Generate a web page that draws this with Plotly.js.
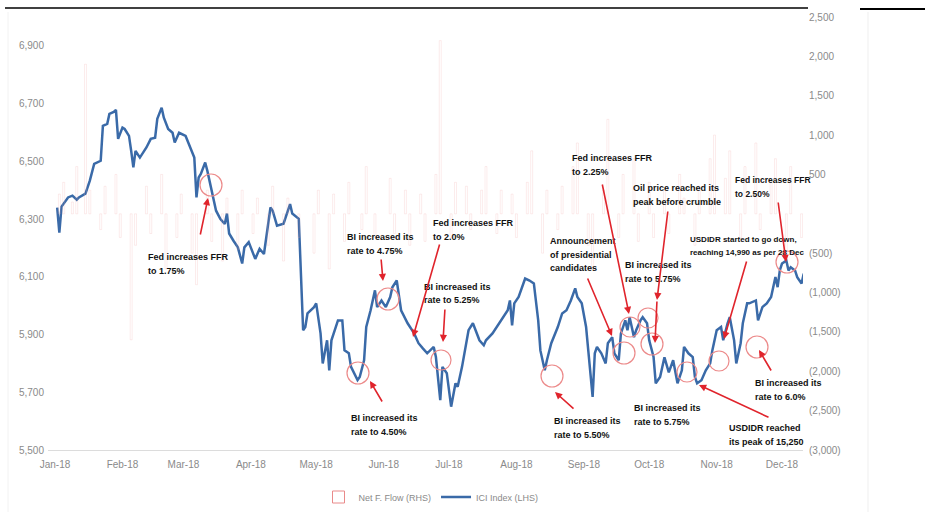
<!DOCTYPE html>
<html>
<head>
<meta charset="utf-8">
<script src="https://cdn.plot.ly/plotly-3.0.1.min.js"></script>
<style>html,body{margin:0;padding:0;background:#fff;}#chart{width:930px;height:512px;}</style>
</head>
<body>
<div id="chart"></div>
<script>
// ---------- DATA ----------
// ICI (JCI) index, trading day given as day-of-year offset from 1 Jan 2018
const iciDays = [1,2,3,5,6,8,10,11,14,16,18,21,22,24,25,27,28,29,31,32,34,35,36,37,39,42,44,46,47,49,50,52,54,55,57,60,62,64,65,66,67,69,70,72,74,76,78,79,80,82,84,86,87,89,91,92,94,96,99,100,102,105,108,109,112,113,114,115,116,119,120,122,123,125,126,127,129,130,132,133,135,136,139,140,142,143,145,147,148,150,152,154,155,156,157,159,162,165,167,169,171,174,175,177,178,180,182,184,185,187,188,190,192,194,195,197,198,201,203,205,208,209,210,211,213,216,218,220,222,223,225,226,228,231,233,235,237,239,240,242,244,245,247,248,249,251,253,254,256,257,259,260,262,263,264,266,267,269,270,272,273,275,276,278,280,282,284,286,288,289,291,293,294,295,297,299,301,302,304,306,307,309,310,312,313,315,316,318,319,322,323,325,327,329,331,332,333,334,336,337,338,340,341,343,344];
const iciValues = [6340,6253,6343,6364,6375,6381,6367,6375,6388,6433,6491,6502,6623,6630,6664,6671,6678,6578,6617,6612,6588,6536,6479,6536,6513,6548,6578,6582,6647,6686,6651,6612,6599,6565,6599,6588,6548,6513,6375,6444,6456,6496,6467,6392,6329,6300,6283,6319,6250,6225,6202,6146,6202,6220,6184,6162,6197,6179,6340,6329,6277,6284,6352,6319,6301,6133,5915,5926,5973,5995,6008,5904,5800,5880,5776,5880,5926,5949,5949,5845,5835,5788,5742,5753,5811,5926,5984,6053,5995,6018,5995,6030,6064,6077,6087,5984,5939,5904,5870,5852,5835,5857,5822,5673,5788,5766,5650,5731,5719,5788,5835,5915,5939,5897,5880,5863,5880,5904,5926,5949,5984,6018,5932,6008,6030,6094,6087,6077,5949,5845,5776,5811,5870,5926,5973,5984,6018,6060,6030,6008,5926,5845,5684,5835,5857,5835,5800,5870,5891,5835,5811,5904,5949,5915,5960,5891,5915,5949,5960,5939,5880,5822,5731,5753,5821,5769,5811,5731,5776,5857,5835,5822,5753,5731,5742,5776,5800,5845,5915,5926,5880,5939,5960,5880,5800,5870,5939,6008,6008,6018,5949,5995,6008,6030,6099,6064,6122,6146,6156,6122,6133,6122,6099,6077,6111];

// Net foreign flow (IDR bn), estimated from the faint bars
const flowDays = [2,4,8,10,14,16,21,23,28,30,
  35,37,42,44,49,51,56,58,
  63,65,70,72,77,79,84,86,91,
  93,98,100,105,107,112,
  119,121,126,128,133,135,141,143,
  147,154,156,161,163,
  168,170,175,177,182,184,189,191,196,198,203,205,
  210,212,217,219,224,226,231,233,238,
  240,245,247,252,254,259,261,266,
  268,273,275,280,282,287,289,294,296,301,
  303,308,310,315,317,322,324,329,331,
  336,338,343];
const flowValues = [250,400,150,600,1900,300,-200,350,500,-300,
  -1600,-400,350,-250,500,-700,-300,250,
  -500,-900,300,-350,-600,200,-450,300,-250,
  200,-400,350,-600,200,-300,
  -500,300,-700,250,-350,400,-200,600,
  -300,450,-250,300,-400,
  250,-350,500,2200,-300,400,350,-200,300,600,-250,300,
  250,-300,400,800,-500,300,-200,350,600,
  900,-400,-700,300,1200,-300,500,700,
  -350,400,-300,300,-250,500,200,-400,350,700,
  1000,450,800,-300,600,900,-200,400,700,
  -500,600,-300];

const monthLabels = ['Jan-18','Feb-18','Mar-18','Apr-18','May-18','Jun-18','Jul-18','Aug-18','Sep-18','Oct-18','Nov-18','Dec-18'];
const leftTicks = [5500,5700,5900,6100,6300,6500,6700,6900];
const rightTicks = [2500,2000,1500,1000,500,0,-500,-1000,-1500,-2000,-2500,-3000];

// ---------- HELPERS ----------
const DAY = 86400000, BASE = Date.UTC(2018,0,1);
function dayToDate(d){ return new Date(BASE + d*DAY).toISOString().slice(0,10); }
function acct(v){ if(v===0) return ''; const s = Math.abs(v).toLocaleString('en-US'); return v<0 ? '('+s+')' : s; }

// plot frame in page pixels
const L=48, R=803, T=17, B=450;
function px(x){ return (x-L)/(R-L); }
function py(y){ return (B-y)/(B-T); }

const n = Math.min(iciDays.length, iciValues.length);
const m = Math.min(flowDays.length, flowValues.length);

const traces = [
  {
    type:'bar', name:'Net F. Flow (RHS)', showlegend:false, legendgroup:'flow',
    x: flowDays.slice(0,m).map(dayToDate), y: flowValues.slice(0,m),
    yaxis:'y2', width: DAY*0.9,
    marker:{color:'rgba(255,255,255,0)', line:{color:'rgba(240,170,170,0.22)', width:1}},
    hoverinfo:'skip'
  },
  { // legend entry for the flow bars (no data of its own)
    type:'bar', name:'Net F. Flow (RHS)', legendgroup:'flow',
    x:[dayToDate(0)], y:[null], yaxis:'y2',
    marker:{color:'#ffffff', line:{color:'#e98a8a', width:1}}, hoverinfo:'skip'
  },
  {
    type:'scatter', mode:'lines', name:'ICI Index (LHS)',
    x: iciDays.slice(0,n).map(dayToDate), y: iciValues.slice(0,n),
    line:{color:'#3a6aa8', width:2.5}
  }
];

// ---------- ANNOTATIONS ----------
const FONT = 'Liberation Sans, Arial, sans-serif';
const notes = [
  [146,257,['Fed increases FFR','to 1.75%'],9],
  [345,237,['BI increased its','rate to 4.75%'],9],
  [431,223,['Fed increases FFR','to 2.0%'],9],
  [422,287,['BI increased its','rate to 5.25%'],9],
  [349,418,['BI increased its','rate to 4.50%'],9],
  [548,241,['Announcement','of presidential','candidates'],9],
  [570,158,['Fed increases FFR','to 2.25%'],9],
  [631,188,['Oil price reached its','peak before crumble'],9],
  [623,265,['BI increased its','rate to 5.75%'],9],
  [688,239,['USDIDR started to go down,','reaching 14,990 as per 28 Dec'],8],
  [733,180,['Fed increases FFR','to 2.50%'],8.5],
  [753,383,['BI increased its','rate to 6.0%'],9],
  [552,421,['BI increased its','rate to 5.50%'],9],
  [632,408,['BI increased its','rate to 5.75%'],9],
  [727,428,['USDIDR reached','its peak of 15,250'],9]
];
const arrows = [
  [200,236,208,198],[381,258,383,281],[440,243,413,337],[445,308,443,342],
  [383,403,370,381],[587,277,612,336],[602,183,629,314],[668,210,657,300],
  [657,300,655,343],[747,260,724,339],[778,201,786,262],[772,372,759,350],
  [575,410,555,392],[770,418,699,385]
];
const circles = [
  [211,185,11],[358,373,11],[388,299,11],[441,360,10],[552,376,11],[624,353,11],
  [630,327,10],[648,318,10],[652,344,11],[687,372,10],[719,361,10],[757,347,11],[787,262,11]
];

const annotations = [];
notes.forEach(([x,y,lines,fs])=>{
  lines.forEach((t,i)=>{
    annotations.push({xref:'paper',yref:'paper',x:px(x),y:py(y+i*13.5),xanchor:'left',yanchor:'middle',
      text:'<b>'+t+'</b>',showarrow:false,font:{family:FONT,size:fs,color:'#111'}});
  });
});
arrows.forEach(([x0,y0,x1,y1])=>{
  annotations.push({xref:'paper',yref:'paper',x:px(x1),y:py(y1),ax:x0-x1,ay:y0-y1,text:'',
    showarrow:true,arrowhead:2,arrowsize:0.9,arrowwidth:1.6,arrowcolor:'#e0242c'});
});

const shapes = circles.map(([cx,cy,r])=>({
  type:'circle',xref:'paper',yref:'paper',x0:px(cx-r),x1:px(cx+r),y0:py(cy+r),y1:py(cy-r),
  line:{color:'#ec8a8a',width:1.2},fillcolor:'rgba(0,0,0,0)'
}));
shapes.push({type:'line',xref:'paper',yref:'paper',x0:px(5),x1:px(808),y0:py(8),y1:py(8),line:{color:'#000',width:1.5}});
shapes.push({type:'line',xref:'paper',yref:'paper',x0:px(860),x1:px(925),y0:py(9),y1:py(9),line:{color:'#000',width:2}});
shapes.push({type:'line',xref:'paper',yref:'paper',x0:px(868),x1:px(868),y0:py(12),y1:py(512),line:{color:'#efefef',width:1}});
shapes.push({type:'line',xref:'paper',yref:'paper',x0:px(8),x1:px(8),y0:py(12),y1:py(512),line:{color:'#f2f2f2',width:1}});

const tickFont = {family:FONT,size:10,color:'#8a8a8a'};
const layout = {
  width:930,height:512,
  margin:{l:L,r:930-R,t:T,b:512-B,pad:0,autoexpand:false},
  paper_bgcolor:'#fff',plot_bgcolor:'#fff',
  showlegend:true,
  legend:{orientation:'h',x:px(431),xanchor:'center',y:py(497),yanchor:'middle',
    font:{family:FONT,size:9,color:'#8a8a8a'},bgcolor:'rgba(0,0,0,0)'},
  xaxis:{type:'date',range:[BASE+((L-55)/2.1766)*DAY, BASE+((R-55)/2.1766)*DAY],
    tickvals:monthLabels.map((_,i)=>'2018-'+String(i+1).padStart(2,'0')+'-01'),
    ticktext:monthLabels,ticks:'',showgrid:false,zeroline:false,
    showline:true,linecolor:'#dcdcdc',linewidth:1,tickfont:tickFont,ticklabelstandoff:5},
  yaxis:{range:[5500,7000],tickvals:leftTicks,ticktext:leftTicks.map(acct),
    showgrid:false,zeroline:false,showline:false,ticks:'',tickfont:tickFont,ticklabelstandoff:3},
  yaxis2:{overlaying:'y',side:'right',range:[-3000,2500],tickvals:rightTicks,ticktext:rightTicks.map(acct),
    showgrid:false,zeroline:false,showline:false,ticks:'',tickfont:tickFont,ticklabelstandoff:5},
  bargap:0,
  annotations:annotations,
  shapes:shapes
};

Plotly.newPlot('chart',traces,layout,{displayModeBar:false,staticPlot:true});
</script>
</body>
</html>
